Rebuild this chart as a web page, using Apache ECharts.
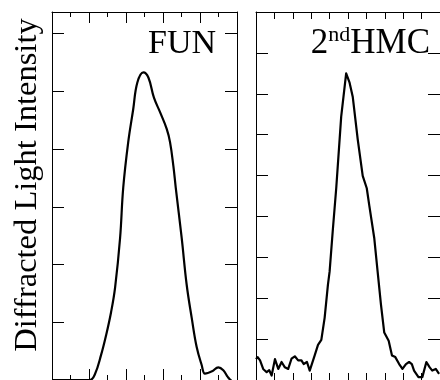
<!DOCTYPE html>
<html>
<head>
<meta charset="utf-8">
<script src="https://cdn.jsdelivr.net/npm/echarts@6/dist/echarts.min.js"></script>
<style>
  html, body { margin: 0; padding: 0; background: #fff; }
  #chart { width: 440px; height: 380px; }
</style>
</head>
<body>
<div id="chart"></div>
<script>
// FUN panel (left), smooth profile
const funX = [0, 1.2, 2.05, 2.32, 2.65, 2.92, 3.19, 3.41, 3.68, 3.85, 4.12, 4.39, 4.61, 4.94, 5.21, 5.51, 5.84, 6.2, 6.38, 6.56, 6.69, 7.01, 7.28, 7.55, 7.82, 8.09, 8.27, 8.65, 8.99, 9.26, 9.51, 9.73, 10]
const funY = [0, 0, 0, 0.1, 0.43, 0.77, 1.17, 1.6, 2.46, 3.33, 4.12, 4.69, 5.15, 5.33, 5.24, 4.89, 4.64, 4.35, 4.12, 3.71, 3.33, 2.46, 1.65, 1.08, 0.57, 0.26, 0.11, 0.15, 0.22, 0.17, 0.05, -0.02, -0.05]

// 2nd HMC panel (right), noisy profile
const hmcX = [0, 0.09, 0.22, 0.39, 0.58, 0.72, 0.85, 1.03, 1.21, 1.39, 1.57, 1.75, 1.93, 2.11, 2.29, 2.47, 2.59, 2.77, 2.92, 3.01, 3.19, 3.37, 3.55, 3.73, 3.91, 4.0, 4.18, 4.36, 4.63, 4.9, 5.08, 5.26, 5.53, 5.8, 6.02, 6.16, 6.43, 6.61, 6.79, 6.97, 7.21, 7.39, 7.57, 7.78, 7.96, 8.15, 8.32, 8.47, 8.59, 8.83, 9.04, 9.26, 9.44, 9.58, 9.77, 9.95]
const hmcY = [0.51, 0.56, 0.48, 0.27, 0.19, 0.24, 0.11, 0.51, 0.27, 0.44, 0.31, 0.27, 0.52, 0.58, 0.48, 0.48, 0.39, 0.44, 0.23, 0.19, 0.6, 0.86, 0.98, 1.52, 2.33, 2.65, 3.7, 4.69, 6.44, 7.5, 7.28, 6.92, 5.88, 4.99, 4.69, 4.26, 3.46, 2.65, 1.85, 1.16, 0.96, 0.6, 0.56, 0.39, 0.27, 0.39, 0.44, 0.39, 0.23, 0.07, 0.07, 0.44, 0.31, 0.23, 0.27, 0.15]

const funTitle = 'FUN'
const hmcTitle = '{a|2}{b|nd}{a|HMC}'
const yLabel = 'Diffracted Light Intensity'

const serif = '"Liberation Serif", "DejaVu Serif", serif'

function pairs(xs, ys) {
    return xs.map((x, i) => [x, ys[i]])
}

function xAx(grid, pos, interval, len, minor) {
    return {
        type: 'value', gridIndex: grid, position: pos, min: 0, max: 10, interval: interval,
        axisLine: { show: true, onZero: false, lineStyle: { color: '#000', width: 1 } },
        axisTick: { show: true, inside: true, length: len, lineStyle: { color: '#000', width: 1 } },
        minorTick: { show: minor, splitNumber: 2, length: 5, lineStyle: { color: '#000', width: 1 } },
        axisLabel: { show: false },
        splitLine: { show: false }
    }
}

function yAx(grid, pos, max) {
    return {
        type: 'value', gridIndex: grid, position: pos, min: 0, max: max, interval: 1,
        axisLine: { show: true, onZero: false, lineStyle: { color: '#000', width: 1 } },
        axisTick: { show: true, inside: true, length: 12, lineStyle: { color: '#000', width: 1 } },
        axisLabel: { show: false },
        splitLine: { show: false }
    }
}

const myChart = echarts.init(document.getElementById('chart'))
myChart.setOption({
    animation: false,
    grid: [
        { left: 52, top: 12, width: 185, height: 371 },
        { left: 256, top: 12, width: 185, height: 371 }
    ],
    xAxis: [
        xAx(0, 'bottom', 2, 11, true),
        xAx(0, 'top', 2, 11, true),
        xAx(1, 'bottom', 1, 7, false),
        xAx(1, 'top', 1, 7, false)
    ],
    yAxis: [
        yAx(0, 'left', 6.375),
        yAx(0, 'right', 6.375),
        yAx(1, 'left', 9),
        yAx(1, 'right', 9)
    ],
    series: [
        {
            name: 'FUN', type: 'line', xAxisIndex: 0, yAxisIndex: 0,
            data: pairs(funX, funY), smooth: 0.4, showSymbol: false,
            lineStyle: { color: '#000', width: 2.2 }
        },
        {
            name: '2nd HMC', type: 'line', xAxisIndex: 2, yAxisIndex: 2,
            data: pairs(hmcX, hmcY), smooth: false, showSymbol: false,
            lineStyle: { color: '#000', width: 2.2, join: 'round' }
        }
    ],
    graphic: [
        {
            type: 'text', x: 216, y: 44,
            style: { text: funTitle, align: 'right', verticalAlign: 'middle', fontSize: 34, fontFamily: serif, fill: '#000' }
        },
        {
            type: 'text', x: 430, y: 44,
            style: {
                text: hmcTitle, align: 'right', verticalAlign: 'middle', fill: '#000',
                rich: {
                    a: { fontSize: 35, fontFamily: serif, lineHeight: 40, fill: '#000' },
                    b: { fontSize: 22, fontFamily: serif, lineHeight: 40, verticalAlign: 'top', fill: '#000' }
                }
            }
        },
        {
            type: 'text', x: 27, y: 185, rotation: Math.PI / 2,
            style: { text: yLabel, align: 'center', verticalAlign: 'middle', fontSize: 32.5, fontFamily: serif, fill: '#000' }
        }
    ]
})
</script>
</body>
</html>
